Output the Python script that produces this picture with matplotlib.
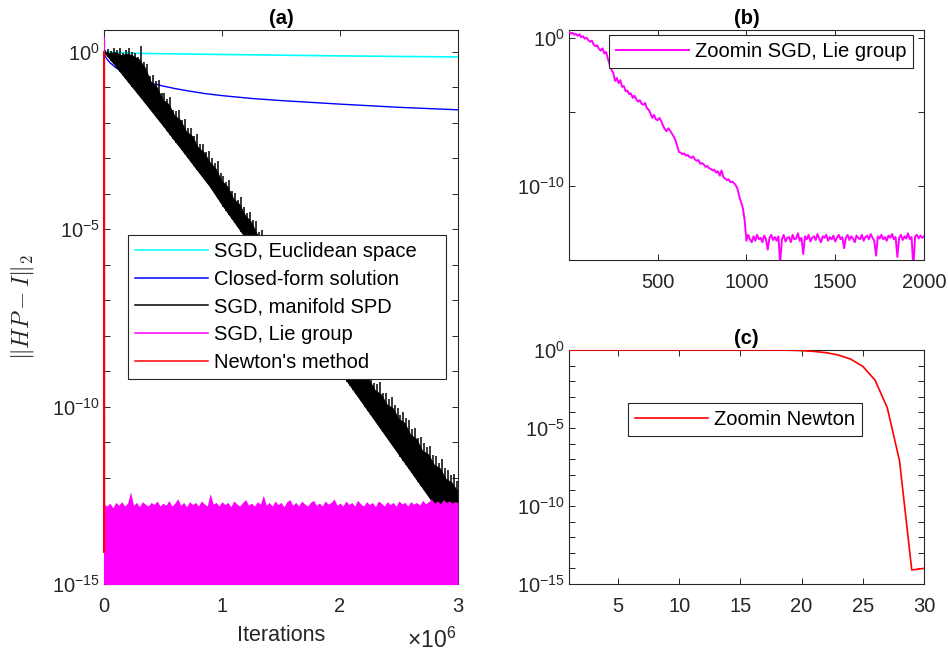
import numpy as np
import matplotlib
matplotlib.use('Agg')
import matplotlib.pyplot as plt
from matplotlib.ticker import FixedLocator, FuncFormatter, NullLocator
from matplotlib.lines import Line2D

plt.rcParams['font.family'] = ['Liberation Sans', 'DejaVu Sans']
plt.rcParams['mathtext.fontset'] = 'custom'
plt.rcParams['mathtext.rm'] = 'Liberation Sans'
plt.rcParams['mathtext.it'] = 'Liberation Sans:italic'
plt.rcParams['mathtext.bf'] = 'Liberation Sans:bold'

DARK = '#262626'
FS = 14.5

# ---------------- data (log10 of ||HP - I||_2) ----------------
series_labels = ['SGD, Euclidean space    ', 'Closed-form solution', 'SGD, manifold SPD',
                 'SGD, Lie group', "Newton's method"]
series_colors = ['#00FFFF', '#0000FF', '#000000', '#FF00FF', '#FF0000']

# SGD Euclidean (cyan)
euc_iter = [0, 0.3e6, 1.0e6, 2.0e6, 3.0e6]
euc_log = [0.0, -0.04, -0.07, -0.11, -0.14]

# Closed-form solution (blue)
cf_iter = [0, 0.01e6, 0.025e6, 0.05e6, 0.1e6, 0.15e6, 0.2e6, 0.3e6, 0.4e6, 0.5e6,
           0.6e6, 0.7e6, 0.85e6, 1.0e6, 1.25e6, 1.5e6, 1.75e6, 2.0e6, 2.5e6, 3.0e6]
cf_log = [0.0, -0.12, -0.2, -0.3, -0.44, -0.55, -0.63, -0.77, -0.88, -0.96,
          -1.03, -1.09, -1.17, -1.23, -1.31, -1.37, -1.42, -1.47, -1.56, -1.63]

# SGD manifold SPD (black band): solid body upper edge, lower edge, spike heights
spd_upper_iter = np.linspace(0, 3.0e6, 61)
spd_upper_log = [
    0.0, -0.04, -0.02, -0.1, -0.06, -0.12, -0.22, -0.45, -0.85, -1.0,
    -1.35, -1.48, -1.8, -1.93, -2.25, -2.38, -2.7, -2.84, -3.12, -3.3,
    -3.65, -3.8, -4.15, -4.3, -4.62, -4.8, -5.15, -5.28, -5.6, -5.72,
    -6.05, -6.18, -6.5, -6.62, -6.95, -7.08, -7.4, -7.52, -7.84, -7.95,
    -8.25, -8.38, -8.7, -8.82, -9.15, -9.26, -9.55, -9.66, -9.95, -10.05,
    -10.35, -10.47, -10.8, -10.92, -11.25, -11.35, -11.65, -11.75, -12.05, -12.15,
    -12.4]
spd_lower_iter = np.linspace(0, 3.0e6, 31)
spd_lower_log = [0.0, -0.4, -0.82, -1.23, -1.65, -2.07, -2.5, -2.93, -3.37, -3.8,
                 -4.3, -4.77, -5.24, -5.71, -6.18, -6.65, -7.12, -7.59, -8.06, -8.53,
                 -9.0, -9.47, -9.94, -10.41, -10.88, -11.35, -11.82, -12.29, -12.76,
                 -13.23, -13.7]
# spikes above the solid body (one every 25 000 iterations), height in decades
spd_spike_iter = np.linspace(0.0125e6, 2.9875e6, 120)
spd_spike_rise = [
    0.08, 0.12, 0.05, 0.15, 0.1, 0.18, 0.06, 0.14, 0.2, 0.1,
    0.12, 0.05, 0.45, 0.1, 0.2, 0.08, 0.25, 0.15, 0.3, 0.1,
    0.22, 0.12, 0.3, 0.08, 0.18, 0.25, 0.1, 0.28, 0.15, 0.2,
    0.08, 0.3, 0.15, 0.22, 0.1, 0.26, 0.18, 0.12, 0.3, 0.15,
    0.2, 0.1, 0.28, 0.15, 0.22, 0.08, 0.3, 0.18, 0.12, 0.25,
    0.15, 0.3, 0.1, 0.22, 0.18, 0.28, 0.12, 0.2, 0.3, 0.1,
    0.25, 0.15, 0.2, 0.3, 0.1, 0.22, 0.28, 0.15, 0.2, 0.12,
    0.3, 0.18, 0.1, 0.25, 0.2, 0.3, 0.15, 0.22, 0.1, 0.28,
    0.2, 0.12, 0.3, 0.18, 0.25, 0.1, 0.22, 0.3, 0.15, 0.2,
    0.28, 0.15, 0.22, 0.32, 0.12, 0.25, 0.2, 0.3, 0.18, 0.25,
    0.15, 0.3, 0.22, 0.35, 0.2, 0.28, 0.12, 0.3, 0.25, 0.2,
    0.32, 0.22, 0.28, 0.15, 0.35, 0.25, 0.3, 0.2, 0.32, 0.25]

# SGD Lie group: first 2000 iterations (panel b)
lie_zoom_iter = np.r_[1, np.arange(10, 2001, 10)]
lie_zoom_log = [
    0.40, 0.30, 0.35, 0.22, 0.28, 0.15, 0.25, 0.05, 0.12, -0.05,
    0.02, -0.15, -0.25, -0.18, -0.45, -0.55, -0.50, -0.75, -0.85, -0.70,
    -1.05, -0.95, -1.4, -1.8, -2.15, -2.35, -2.9, -2.7, -3.05, -2.85,
    -3.3, -3.25, -3.6, -3.55, -3.8, -3.75, -4.05, -3.9, -4.15, -4.3,
    -4.2, -4.45, -4.5, -4.4, -4.75, -4.85, -5.1, -5.4, -5.2, -5.5,
    -5.55, -5.4, -5.6, -5.9, -6.15, -6.3, -6.1, -6.25, -6.45, -6.65,
    -6.9, -7.3, -7.7, -7.75, -7.85, -7.8, -7.95, -7.9, -8.05, -8.1,
    -8.0, -8.2, -8.3, -8.25, -8.5, -8.45, -8.55, -8.7, -8.65, -8.8,
    -8.85, -8.95, -8.9, -9.1, -9.0, -9.3, -8.95, -9.4, -9.5, -9.6,
    -9.55, -9.75, -9.7, -9.8, -9.95, -10.2, -10.7, -11.1, -11.5, -12.3,
    -13.7, -13.3, -13.6, -13.8,
    -13.4, -13.7, -13.3, -13.6, -13.5, -13.8, -13.35, -13.6, -14.3, -13.5,
    -13.3, -13.65, -13.45, -13.7, -13.4, -15.2, -13.6, -13.3, -13.75, -13.5,
    -13.45, -13.8, -13.3, -13.6, -13.55, -13.2, -13.7, -13.5, -14.6, -13.4,
    -13.6, -13.3, -13.75, -13.5, -13.4, -13.65, -13.25, -13.55, -13.8, -13.4,
    -13.5, -13.3, -13.7, -13.45, -13.6, -13.35, -13.75, -13.5, -13.3, -13.6,
    -13.45, -14.2, -13.5, -13.3, -13.65, -13.4, -13.55, -13.8, -13.35, -13.5,
    -13.6, -13.3, -13.7, -13.45, -13.35, -13.6, -13.25, -13.5, -13.7, -14.7,
    -13.4, -13.55, -13.3, -13.6, -13.45, -13.7, -13.35, -13.5, -13.25, -13.6,
    -13.45, -14.8, -13.5, -13.3, -13.65, -13.4, -13.55, -13.2, -13.6, -13.45,
    -15.5, -13.4, -13.3, -13.55, -13.35, -13.5, -13.4]

# SGD Lie group: upper envelope of the noise floor over 3e6 iterations (panel a)
lie_floor_iter = np.linspace(0, 3.0e6, 121)
lie_floor_log = [
    -12.75, -12.8, -12.72, -12.85, -12.7, -12.78, -12.68, -12.8, -12.72, -12.4,
    -12.78, -12.7, -12.82, -12.68, -12.75, -12.8, -12.7, -12.76, -12.66, -12.8,
    -12.72, -12.78, -12.65, -12.8, -12.72, -12.6, -12.78, -12.7, -12.82, -12.68,
    -12.76, -12.7, -12.8, -12.66, -12.74, -12.8, -12.45, -12.75, -12.7, -12.8,
    -12.68, -12.76, -12.7, -12.82, -12.66, -12.74, -12.8, -12.7, -12.62, -12.78,
    -12.72, -12.8, -12.68, -12.75, -12.5, -12.78, -12.7, -12.8, -12.66, -12.76,
    -12.7, -12.82, -12.68, -12.62, -12.78, -12.7, -12.8, -12.66, -12.74, -12.8,
    -12.7, -12.64, -12.78, -12.72, -12.8, -12.66, -12.75, -12.7, -12.6, -12.78,
    -12.72, -12.8, -12.66, -12.76, -12.7, -12.8, -12.64, -12.74, -12.8, -12.68,
    -12.76, -12.7, -12.82, -12.66, -12.72, -12.8, -12.68, -12.76, -12.7, -12.8,
    -12.66, -12.74, -12.7, -12.8, -12.68, -12.75, -12.7, -12.78, -12.64, -12.74,
    -12.68, -12.6, -12.72, -12.66, -12.74, -12.62, -12.7, -12.66, -12.72, -12.68,
    -12.7]

# Newton's method
newton_iter = list(range(1, 31))
newton_log = [-0.002] * 17 + [-0.005, -0.015, -0.04, -0.09, -0.17, -0.32, -0.58,
                               -1.05, -1.93, -3.7, -7.1, -14.1, -14.0]

# axis ticks / labels
a_xticks = [0, 1e6, 2e6, 3e6]
a_xticklabels = ['0', '1', '2', '3']
b_xticks = [500, 1000, 1500, 2000]
c_xticks = [5, 10, 15, 20, 25, 30]
a_ylabel_exps = [0, -5, -10, -15]
b_ylabel_exps = [0, -10]
c_ylabel_exps = [0, -5, -10, -15]

# ---------------- figure ----------------
W, H = 948, 660
fig = plt.figure(figsize=(W / 100, H / 100), dpi=100)


def rect(l, t, r, b):
    return [l / W, 1 - b / H, (r - l) / W, (b - t) / H]


axA = fig.add_axes(rect(104, 30, 458, 584))
axB = fig.add_axes(rect(569, 30, 924, 260))
axC = fig.add_axes(rect(569, 350, 924, 584))


def style(ax):
    ax.set_yscale('log')
    for s in ax.spines.values():
        s.set_color(DARK)
        s.set_linewidth(0.8)
        s.set_zorder(1)
    ax.tick_params(which='both', direction='in', top=True, right=True, length=4,
                   width=0.7, color=DARK, labelcolor=DARK, labelsize=FS)
    ax.tick_params(axis='x', pad=9)
    ax.tick_params(axis='y', pad=3)


def logfmt(exps):
    def f(v, pos):
        e = int(round(np.log10(v)))
        return r'$\mathdefault{10^{%d}}$' % e if e in exps else ''
    return FuncFormatter(f)


tocol = lambda lst: 10.0 ** np.asarray(lst)

# ---- panel (a)
style(axA)
axA.plot(euc_iter, tocol(euc_log), color=series_colors[0], lw=1.2, zorder=3)
axA.plot(cf_iter, tocol(cf_log), color=series_colors[1], lw=1.0, zorder=3)
poly_x = np.concatenate([spd_upper_iter, spd_lower_iter[::-1]])
poly_y = np.concatenate([tocol(spd_upper_log), tocol(spd_lower_log)[::-1]])
axA.fill(poly_x, poly_y, color=series_colors[2], lw=0.6, zorder=3)
spike_body = np.interp(spd_spike_iter, spd_upper_iter, spd_upper_log)
spike_base = np.interp(spd_spike_iter, spd_lower_iter, spd_lower_log)
axA.vlines(spd_spike_iter, tocol(spike_base), tocol(spike_body + np.asarray(spd_spike_rise)),
           color=series_colors[2], lw=1.1, zorder=3)
axA.fill_between(lie_floor_iter, 1e-16, tocol(lie_floor_log),
                 color=series_colors[3], lw=0, zorder=4)
axA.plot(lie_zoom_iter, tocol(lie_zoom_log), color=series_colors[3], lw=1.5, zorder=4)
axA.plot(newton_iter, tocol(newton_log), color=series_colors[4], lw=1.5, zorder=5,
         clip_on=False)
axA.set_xlim(0, 3e6)
axA.set_ylim(1e-15, 10 ** 0.62)
axA.xaxis.set_major_locator(FixedLocator(a_xticks))
axA.set_xticklabels(a_xticklabels)
axA.yaxis.set_major_locator(FixedLocator(10.0 ** np.arange(-15, 1)))
axA.yaxis.set_major_formatter(logfmt(a_ylabel_exps))
axA.yaxis.set_minor_locator(NullLocator())
axA.set_title('(a)', fontweight='bold', fontsize=FS, pad=4, color='k')
axA.set_xlabel('Iterations', fontsize=FS + 1, color=DARK, labelpad=7)
fig.text(456 / W, 1 - 640 / H, r'$\times\mathdefault{10^{6}}$', ha='right', va='center',
         fontsize=FS + 2, color=DARK)
fig.text(22 / W, 1 - 307 / H, r'$\|HP-I\|_2$', math_fontfamily='cm', rotation=90,
         ha='center', va='center', fontsize=17, color=DARK)
handles = [Line2D([], [], color=c, lw=1.1) for c in series_colors]
legA = axA.legend(handles, series_labels, loc='upper left',
                  bbox_to_anchor=(128 / W, 1 - 235 / H), bbox_transform=fig.transFigure,
                  borderaxespad=0, fontsize=FS, fancybox=False, edgecolor=DARK,
                  framealpha=1, handlelength=3.6, handletextpad=0.3, labelspacing=0.43,
                  borderpad=0.35)
legA.get_frame().set_linewidth(0.8)
legA.set_zorder(10)

# ---- panel (b)
style(axB)
axB.plot(lie_zoom_iter, tocol(lie_zoom_log), color=series_colors[3], lw=1.4,
         label='Zoomin SGD, Lie group')
axB.set_xlim(1, 2000)
axB.set_ylim(1e-15, 10 ** 0.54)
axB.xaxis.set_major_locator(FixedLocator(b_xticks))
axB.yaxis.set_major_locator(FixedLocator([1e-15, 1e-10, 1e-5, 1e0]))
axB.yaxis.set_major_formatter(logfmt(b_ylabel_exps))
axB.yaxis.set_minor_locator(NullLocator())
axB.set_title('(b)', fontweight='bold', fontsize=FS, pad=4, color='k')
legB = axB.legend(loc='upper left', bbox_to_anchor=(609 / W, 1 - 35 / H),
                  bbox_transform=fig.transFigure, borderaxespad=0, fontsize=FS,
                  fancybox=False, edgecolor=DARK, framealpha=1, handlelength=3.6,
                  handletextpad=0.3, borderpad=0.35)
legB.get_frame().set_linewidth(0.8)

# ---- panel (c)
style(axC)
axC.plot(newton_iter, tocol(newton_log), color=series_colors[4], lw=1.2,
         label='Zoomin Newton')
axC.set_xlim(1, 30)
axC.set_ylim(1e-15, 1)
axC.xaxis.set_major_locator(FixedLocator(c_xticks))
axC.yaxis.set_major_locator(FixedLocator(10.0 ** np.arange(-15, 1)))
axC.yaxis.set_major_formatter(logfmt(c_ylabel_exps))
axC.yaxis.set_minor_locator(NullLocator())
axC.set_title('(c)', fontweight='bold', fontsize=FS, pad=4, color='k')
legC = axC.legend(loc='upper left', bbox_to_anchor=(628 / W, 1 - 403 / H),
                  bbox_transform=fig.transFigure, borderaxespad=0, fontsize=FS,
                  fancybox=False, edgecolor=DARK, framealpha=1, handlelength=3.6,
                  handletextpad=0.3, borderpad=0.35)
legC.get_frame().set_linewidth(0.8)

fig.savefig('out.png', dpi=100)
